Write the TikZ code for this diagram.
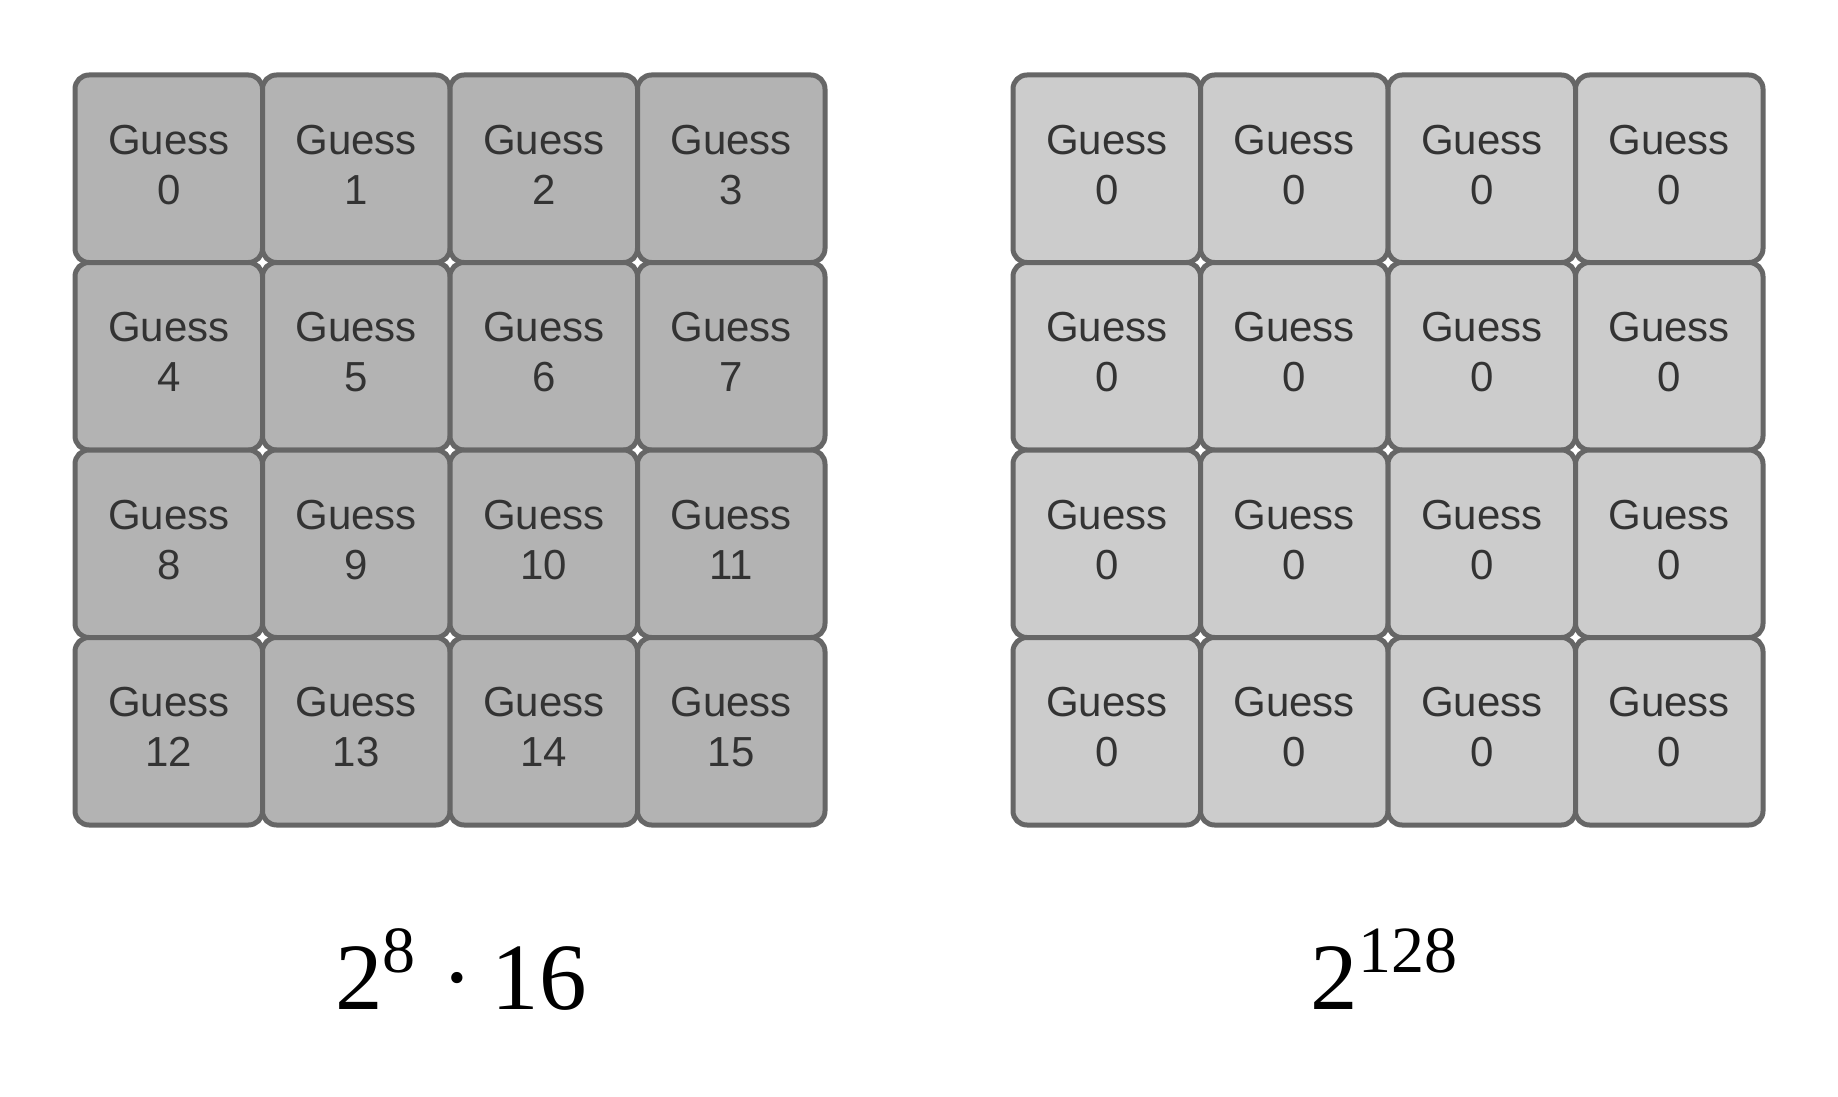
\documentclass[tikz,border=0pt]{standalone}
\usepackage{fontspec}
\setmainfont{Liberation Sans}
\newfontfamily\timesfont{Liberation Serif}
\definecolor{cellline}{HTML}{666666}
\definecolor{celltext}{HTML}{333333}
\definecolor{darkcell}{HTML}{B3B3B3}
\definecolor{lightcell}{HTML}{CCCCCC}
\tikzset{
  guess/.style={draw=cellline, line width=2.5pt, rounded corners=7pt,
    minimum width=93.75pt, minimum height=93.75pt, inner sep=0pt},
  guesstext/.style={align=center, text=celltext, inner sep=0pt, yshift=2pt,
    font=\fontsize{21}{25}\selectfont},
  count/.style={anchor=base, inner sep=0pt,
    font=\fontsize{47.5}{50}\timesfont}
}
\newcommand{\upnum}[1]{\raisebox{18.5pt}{\fontsize{33}{33}\selectfont #1}}
\begin{document}
\begin{tikzpicture}[x=0.5pt,y=-0.5pt]
  \useasboundingbox[fill=white] (0,0) rectangle (1838,1097);
  % left grid: every cell its own guess
  \foreach \r in {0,...,3}
    \foreach \c in {0,...,3}{
      \pgfmathtruncatemacro{\k}{4*\r+\c}
      \node[guess, fill=darkcell, label={[guesstext]center:Guess\\\k}]
        (gl-\k) at ({168.75+187.5*\c},{168.75+187.5*\r}) {};
    }
  % right grid: all cells the same guess
  \foreach \r in {0,...,3}
    \foreach \c in {0,...,3}{
      \pgfmathtruncatemacro{\k}{4*\r+\c}
      \node[guess, fill=lightcell, label={[guesstext]center:Guess\\0}]
        (gr-\k) at ({1106.75+187.5*\c},{168.75+187.5*\r}) {};
    }
  \node[count] (leftcount) at (461,1009) {2\upnum{8}\hspace{13pt}·\hspace{9pt}16};
  \node[count] (rightcount) at (1384,1009) {2\upnum{128}};
\end{tikzpicture}
\end{document}
